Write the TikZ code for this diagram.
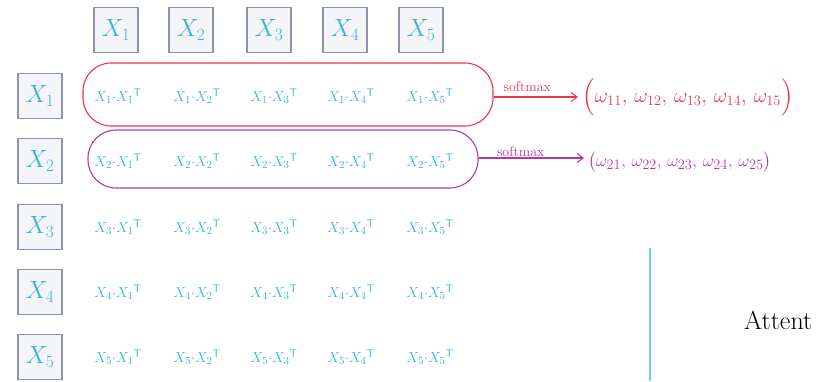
\documentclass[tikz,border=0pt]{standalone}
\usepackage{amsmath}
\usetikzlibrary{arrows.meta,calc}
\definecolor{ink}{HTML}{3BB0D8}
\definecolor{boxline}{HTML}{8C93AC}
\definecolor{boxfill}{HTML}{F4F5F8}
\definecolor{redink}{HTML}{E8364C}
\definecolor{purpink}{HTML}{B23A9E}
\definecolor{tealline}{HTML}{6FD2D2}
\begin{document}
\begin{tikzpicture}[x=1pt,y=-1pt,
  xbox/.style={draw=boxline,line width=1.2pt,fill=boxfill,minimum width=44pt,minimum height=45pt,inner sep=0pt,text=ink,font=\fontsize{26}{28}\selectfont},
  prod/.style={text=ink,inner sep=0pt,font=\fontsize{15.5}{17}\selectfont},
  ring/.style={draw,line width=1.1pt,rounded corners=28pt,inner sep=0pt},
  warrow/.style={line width=1.1pt,-{Straight Barb[length=6pt,width=9pt]}},
  lab/.style={inner sep=1pt,font=\fontsize{14}{16}\selectfont}]
\useasboundingbox (0,0) rectangle (820,381);
% top row
\foreach \j/\x in {1/116,2/191,3/269,4/345,5/421}
  \node[xbox] (t\j) at (\x,30) {$X_{\j}$};
% left column
\foreach \i/\y in {1/96,2/161,3/227,4/292,5/357}
  \node[xbox] (l\i) at (40,\y) {$X_{\i}$};
% products
\foreach \i/\y in {1/96,2/161,3/227,4/292,5/357}
  \foreach \j/\x in {1/118,2/197,3/274,4/351,5/430}
    \node[prod] (p\i\j) at (\x,\y) {$X_{\i}{\cdot}X_{\j}{}^{\mathsf{T}}$};
% rings
\node[ring,draw=redink,minimum width=410pt,minimum height=63pt] (e1) at (288,94.5) {};
\node[ring,draw=purpink,minimum width=390pt,minimum height=58pt] (e2) at (283,159) {};
% outputs
\node[text=redink,anchor=west,inner sep=0pt,font=\fontsize{21}{24}\selectfont] (w1) at (582,97)
  {$\Big(\omega_{11},\, \omega_{12},\, \omega_{13},\, \omega_{14},\, \omega_{15}\Big)$};
\node[text=purpink,anchor=west,inner sep=0pt,font=\fontsize{19}{22}\selectfont] (w2) at (588,162)
  {$\big(\omega_{21},\, \omega_{22},\, \omega_{23},\, \omega_{24},\, \omega_{25}\big)$};
\draw[warrow,redink] (e1.east |- w1.west) -- node[lab,above,text=redink,pos=0.4,yshift=4pt] {softmax} ($(w1.west)+(-4,0)$);
\draw[warrow,purpink] ($(e2.east |- w2.west)+(0,-4)$) -- node[lab,above,text=purpink,pos=0.4] {softmax} ($(w2.west)+(-4,-4)$);
% teal line and text
\coordinate (v1) at (650,248);
\coordinate (v2) at (650,381);
\draw[tealline,line width=2pt] (v1) -- (v2);
\node[anchor=west,inner sep=0pt,font=\fontsize{26}{28}\selectfont] (att) at (744,320) {Attent};
\end{tikzpicture}
\end{document}
